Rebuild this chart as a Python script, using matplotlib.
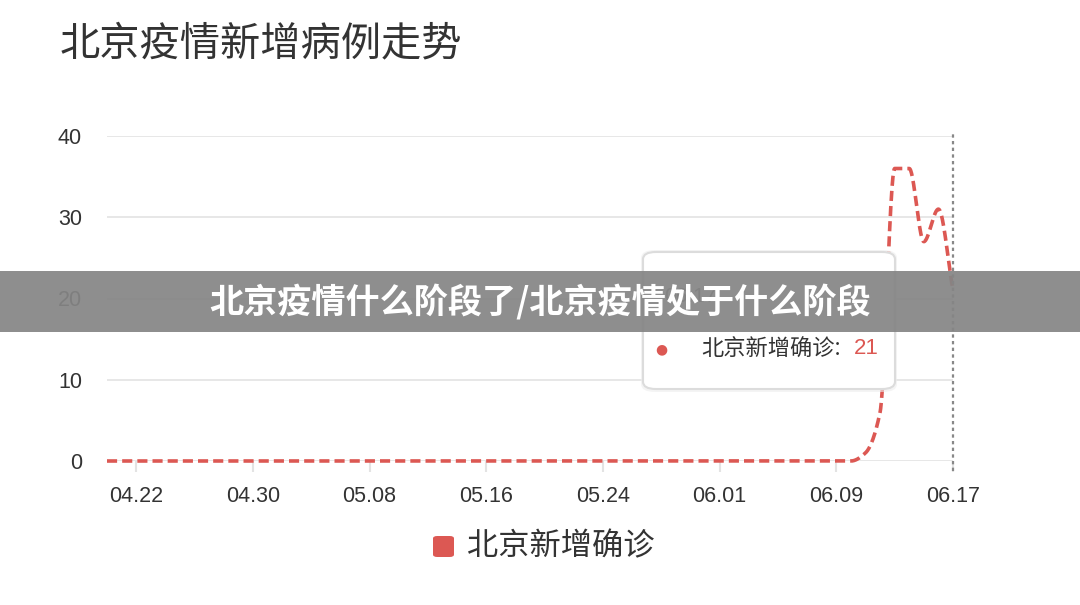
import numpy as np
import matplotlib
matplotlib.use('Agg')
import matplotlib.pyplot as plt
from matplotlib.patches import FancyBboxPatch, Rectangle

plt.rcParams['font.family'] = ['Noto Sans CJK SC', 'DejaVu Sans']

# daily new cases, 04.20 .. 06.17
dates = ['04.20', '04.21', '04.22', '04.23', '04.24', '04.25', '04.26', '04.27', '04.28', '04.29', '04.30',
         '05.01', '05.02', '05.03', '05.04', '05.05', '05.06', '05.07', '05.08', '05.09',
         '05.10', '05.11', '05.12', '05.13', '05.14', '05.15', '05.16', '05.17', '05.18',
         '05.19', '05.20', '05.21', '05.22', '05.23', '05.24', '05.25', '05.26', '05.27',
         '05.28', '05.29', '05.30', '05.31', '06.01', '06.02', '06.03', '06.04', '06.05',
         '06.06', '06.07', '06.08', '06.09', '06.10', '06.11', '06.12', '06.13', '06.14',
         '06.15', '06.16', '06.17']
cases = [0] * 52 + [1, 6, 36, 36, 27, 31, 21]
tick_labels = ['04.22', '04.30', '05.08', '05.16', '05.24', '06.01', '06.09', '06.17']
series_name = '北京新增确诊'
title = '北京疫情新增病例走势'
banner = '北京疫情什么阶段了/北京疫情处于什么阶段'

red = '#dc5853'
txt = '#333333'
num_font = 'Liberation Sans'


def pchip(x, y, xs):
    # monotone cubic, just for drawing the smooth line
    x = np.asarray(x, float)
    y = np.asarray(y, float)
    h = np.diff(x)
    d = np.diff(y) / h
    m = np.zeros_like(y)
    for k in range(1, len(y) - 1):
        if d[k - 1] * d[k] > 0:
            w1 = 2 * h[k] + h[k - 1]
            w2 = h[k] + 2 * h[k - 1]
            m[k] = (w1 + w2) / (w1 / d[k - 1] + w2 / d[k])
    m[0] = d[0]
    m[-1] = d[-1]
    idx = np.clip(np.searchsorted(x, xs) - 1, 0, len(x) - 2)
    t = (xs - x[idx]) / h[idx]
    h00 = 2 * t**3 - 3 * t**2 + 1
    h10 = t**3 - 2 * t**2 + t
    h01 = -2 * t**3 + 3 * t**2
    h11 = t**3 - t**2
    return h00 * y[idx] + h10 * h[idx] * m[idx] + h01 * y[idx + 1] + h11 * h[idx] * m[idx + 1]


fig = plt.figure(figsize=(10.8, 6.05), dpi=100)
ax = fig.add_axes([107 / 1080, 1 - 461 / 605, (953 - 107) / 1080, (461 - 136) / 605])

last = len(cases) - 1
xi = np.arange(len(cases))
xs = np.linspace(0, last, 2000)
ax.plot(xs, pchip(xi, cases, xs), color=red, lw=2.6, dashes=(2.8, 1.4),
        clip_on=False, zorder=3, dash_capstyle='butt')

ax.set_xlim(0, last)
ax.set_ylim(0, 40)
ax.set_yticks([0, 10, 20, 30, 40])
ax.set_xticks([dates.index(t) for t in tick_labels])
ax.set_xticklabels(tick_labels)
ax.grid(axis='y', color='#e3e3e3', lw=1.2)
for s in ax.spines.values():
    s.set_visible(False)
ax.tick_params(axis='y', length=0, pad=18, labelsize=15.5, labelcolor=txt)
ax.tick_params(axis='x', length=8, width=1.5, color='#e3e3e3', pad=10, labelsize=15.5, labelcolor=txt)
for lab in ax.get_xticklabels() + ax.get_yticklabels():
    lab.set_family(num_font)

# hover line on last day
ax.axvline(last, ymin=-0.03, ymax=1.01, color='#888888', lw=1.6,
           linestyle=(0, (1.5, 1.5)), clip_on=False, zorder=4)

fig.text(60 / 1080, 1 - 44 / 605, title, fontsize=29, color=txt, va='center', ha='left')

# legend
fig.patches.append(FancyBboxPatch((433 / 1080, 1 - 557 / 605), 21 / 1080, 21 / 605,
                                  boxstyle='round,pad=0,rounding_size=0.004',
                                  transform=fig.transFigure, color=red, ec='none'))
fig.text(467 / 1080, 1 - 546 / 605, series_name, fontsize=22.5, color=txt, va='center', ha='left')

# tooltip (soft shadow + box)
fig.patches.append(FancyBboxPatch((641 / 1080, 1 - 392 / 605), 256 / 1080, 142 / 605,
                                  boxstyle='round,pad=0,rounding_size=0.013',
                                  transform=fig.transFigure, fc='#eeeeee', ec='none',
                                  alpha=0.6, zorder=5))
fig.patches.append(FancyBboxPatch((643 / 1080, 1 - 389 / 605), 252 / 1080, 137 / 605,
                                  boxstyle='round,pad=0,rounding_size=0.012',
                                  transform=fig.transFigure, fc='white', ec='#dcdcdc',
                                  lw=1.5, zorder=5))
fig.text(664 / 1080, 1 - 296 / 605, dates[-1], fontsize=15, color='#666666',
         va='center', ha='left', zorder=6, family=num_font)
fig.text(661 / 1080, 1 - 349 / 605, '●', fontsize=10, color=red, va='center', ha='center',
         family='DejaVu Sans', zorder=6)
fig.text(701 / 1080, 1 - 349 / 605, series_name + ':', fontsize=16, color=txt,
         va='center', ha='left', zorder=6)
fig.text(854 / 1080, 1 - 349 / 605, str(cases[-1]), fontsize=16, color=red,
         va='center', ha='left', zorder=6, family=num_font)

# banner
fig.patches.append(Rectangle((0, 1 - 332 / 605), 1, 61 / 605, transform=fig.transFigure,
                             fc='#858585', alpha=0.93, ec='none', zorder=10))
fig.text(540 / 1080, 1 - 302 / 605, banner, fontsize=24.6, fontweight='heavy', color='white',
         va='center', ha='center', zorder=11)

fig.savefig('out.png', dpi=100, facecolor='white')
